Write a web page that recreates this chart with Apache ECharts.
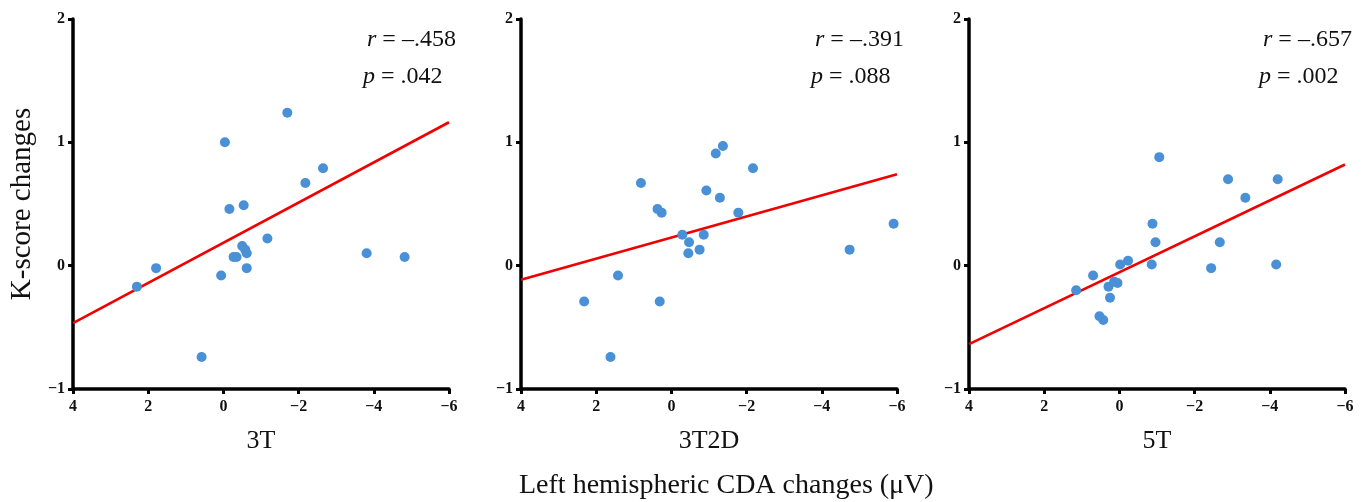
<!DOCTYPE html>
<html><head><meta charset="utf-8">
<script src="https://cdn.jsdelivr.net/npm/echarts@6/dist/echarts.min.js"></script>
<style>html,body{margin:0;padding:0;background:#fff}#c{width:1362px;height:502px}</style>
</head><body><div id="c"></div>
<script>
// ---- data ----
const panelNames = ['3T', '3T2D', '5T'];
const rTexts = ['–.458', '–.391', '–.657'];
const pTexts = ['.042', '.088', '.002'];

const x3T = [2.30, 1.79, 0.58, 0.06, -0.04, -0.16, -0.27, -0.35, -0.54, -0.50, -0.58, -0.62, -0.62, -1.17, -1.70, -2.18, -2.65, -3.81, -4.82];
const y3T = [-0.17, -0.02, -0.74, -0.08, 1.00, 0.46, 0.07, 0.07, 0.49, 0.16, 0.13, 0.10, -0.02, 0.22, 1.24, 0.67, 0.79, 0.10, 0.07];

const x3T2D = [2.32, 1.62, 1.42, 0.81, 0.37, 0.26, 0.31, -0.29, -0.47, -0.45, -0.75, -0.86, -0.93, -1.18, -1.37, -1.29, -1.78, -2.17, -4.74, -5.91];
const y3T2D = [-0.29, -0.74, -0.08, 0.67, 0.46, 0.43, -0.29, 0.25, 0.19, 0.10, 0.13, 0.25, 0.61, 0.91, 0.97, 0.55, 0.43, 0.79, 0.13, 0.34];

const x5T = [1.15, 0.70, 0.53, 0.43, 0.29, 0.25, 0.14, 0.05, -0.02, -0.23, -0.86, -0.88, -0.96, -1.06, -2.44, -2.67, -2.89, -3.35, -4.17, -4.21];
const y5T = [-0.20, -0.08, -0.41, -0.44, -0.17, -0.26, -0.13, -0.14, 0.01, 0.04, 0.01, 0.34, 0.19, 0.88, -0.02, 0.19, 0.70, 0.55, 0.01, 0.70];

// regression line end points (x = 4 and x = -6)
const fitX = [4, -6];
const fit3T = [-0.466, 1.163];
const fit3T2D = [-0.115, 0.742];
const fit5T = [-0.636, 0.820];

const xTicks = { min: -6, max: 4, interval: 2 };
const yTicks = { min: -1, max: 2, interval: 1 };

// ---- chart ----
const xs = [x3T, x3T2D, x5T];
const ys = [y3T, y3T2D, y5T];
const fits = [fit3T, fit3T2D, fit5T];
const gridLefts = [73, 521, 969];
const SERIF = '"Liberation Serif", "Times New Roman", serif';
const minus = v => String(v).replace('-', '\u2212');

const chart = echarts.init(document.getElementById('c'), null, { renderer: 'canvas' });
const grids = [], xAxes = [], yAxes = [], series = [], graphics = [];
for (let i = 0; i < 3; i++) {
  grids.push({ left: gridLefts[i], top: 19, width: 376, height: 370 });
  xAxes.push({
    gridIndex: i, type: 'value', inverse: true,
    min: xTicks.min, max: xTicks.max, interval: xTicks.interval,
    splitLine: { show: false },
    axisLine: { onZero: false, lineStyle: { color: '#000', width: 3.5 } },
    axisTick: { length: 5, lineStyle: { color: '#000', width: 3 } },
    axisLabel: { formatter: minus, color: '#111', fontFamily: SERIF, fontWeight: 'bold', fontSize: 16, margin: 10 },
    name: panelNames[i], nameLocation: 'middle', nameGap: 39,
    nameTextStyle: { fontFamily: SERIF, fontSize: 26, color: '#111' }
  });
  yAxes.push({
    gridIndex: i, type: 'value',
    min: yTicks.min, max: yTicks.max, interval: yTicks.interval,
    splitLine: { show: false },
    axisLine: { onZero: false, lineStyle: { color: '#000', width: 3.5 } },
    axisTick: { length: 5, lineStyle: { color: '#000', width: 3 } },
    axisLabel: { formatter: minus, color: '#111', fontFamily: SERIF, fontWeight: 'bold', fontSize: 16, margin: 8 },
    name: i === 0 ? 'K-score changes' : '', nameLocation: 'middle', nameGap: 36,
    nameTextStyle: { fontFamily: SERIF, fontSize: 29, color: '#111' }
  });
  series.push({
    type: 'line', xAxisIndex: i, yAxisIndex: i,
    data: fitX.map((x, k) => [x, fits[i][k]]),
    showSymbol: false, silent: true, z: 2,
    lineStyle: { color: '#f00000', width: 2.6 }
  });
  series.push({
    type: 'scatter', xAxisIndex: i, yAxisIndex: i,
    data: xs[i].map((x, k) => [x, ys[i][k]]),
    symbolSize: 10, z: 3,
    itemStyle: { color: '#4a90d6', opacity: 1 }
  });
  graphics.push({
    type: 'text', left: gridLefts[i] + 294, top: 28,
    style: { text: '{i|r} = ' + rTexts[i], font: '24px ' + SERIF, fill: '#111',
      rich: { i: { fontStyle: 'italic', fontFamily: SERIF, fontSize: 24, fill: '#111' } } }
  });
  graphics.push({
    type: 'text', left: gridLefts[i] + 290, top: 65,
    style: { text: '{i|p} = ' + pTexts[i], font: '24px ' + SERIF, fill: '#111',
      rich: { i: { fontStyle: 'italic', fontFamily: SERIF, fontSize: 24, fill: '#111' } } }
  });
}

chart.setOption({
  animation: false,
  backgroundColor: '#fff',
  title: {
    text: 'Left hemispheric CDA changes (\u03bcV)',
    left: 514, top: 467,
    textStyle: { fontFamily: SERIF, fontSize: 28, fontWeight: 'normal', color: '#111' }
  },
  grid: grids, xAxis: xAxes, yAxis: yAxes, series: series, graphic: graphics
});
</script></body></html>
